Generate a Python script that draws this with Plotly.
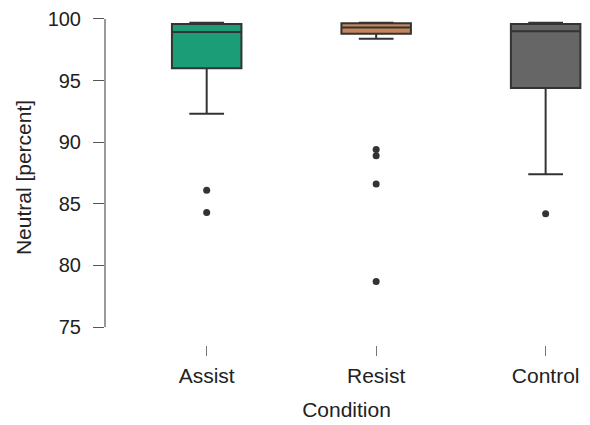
import plotly.graph_objects as go

categories = ["Assist", "Resist", "Control"]
q1_vals = [96.0, 98.8, 94.4]
median_vals = [98.95, 99.3, 99.0]
q3_vals = [99.6, 99.65, 99.6]
lower_whisker = [92.3, 98.4, 87.4]
upper_whisker = [99.7, 99.7, 99.7]
outliers_assist = [86.1, 84.3]
outliers_resist = [89.4, 88.9, 86.6, 78.7]
outliers_control = [84.2]
colors = ["#1b9e77", "#c4865a", "#666666"]

y_ticks = [75, 80, 85, 90, 95, 100]

fig = go.Figure()
for i, cat in enumerate(categories):
    fig.add_trace(go.Box(
        x=[cat], q1=[q1_vals[i]], median=[median_vals[i]], q3=[q3_vals[i]],
        lowerfence=[lower_whisker[i]], upperfence=[upper_whisker[i]],
        fillcolor=colors[i], line=dict(color="#333333", width=2),
        width=0.41, whiskerwidth=0.5, boxpoints=False, showlegend=False,
        hoverinfo="skip",
    ))

for cat, pts in zip(categories, [outliers_assist, outliers_resist, outliers_control]):
    fig.add_trace(go.Scatter(
        x=[cat] * len(pts), y=pts, mode="markers",
        marker=dict(color="#333333", size=7), showlegend=False,
    ))

fig.add_shape(type="line", xref="paper", yref="y", x0=0, x1=0, y0=75, y1=100,
              line=dict(color="#555555", width=1.2))

font_family = "Liberation Sans, Arial, sans-serif"
fig.update_layout(
    width=582, height=417,
    margin=dict(l=97, r=2, t=2, b=80),
    plot_bgcolor="white", paper_bgcolor="white",
    font=dict(family=font_family, size=20, color="#222222"),
    xaxis=dict(
        type="category", categoryorder="array", categoryarray=categories,
        range=[-0.6, 2.25], showline=False, showgrid=False, zeroline=False,
        automargin=False,
        ticks="outside", ticklen=10, tickcolor="#777777", tickwidth=1,
        ticklabelstandoff=2, tickfont=dict(size=21),
        title=dict(text="Condition", font=dict(size=21), standoff=16),
    ),
    yaxis=dict(
        range=[73.54, 100.73], tickvals=y_ticks, showline=False, showgrid=False,
        zeroline=False, automargin=False, ticklabeloverflow="allow",
        ticks="outside", ticklen=11, tickcolor="#555555",
        tickwidth=1.2, ticklabelstandoff=8, tickfont=dict(size=20),
        title=dict(text="Neutral [percent]", font=dict(size=21), standoff=10),
    ),
)

fig.write_html("out.html")
